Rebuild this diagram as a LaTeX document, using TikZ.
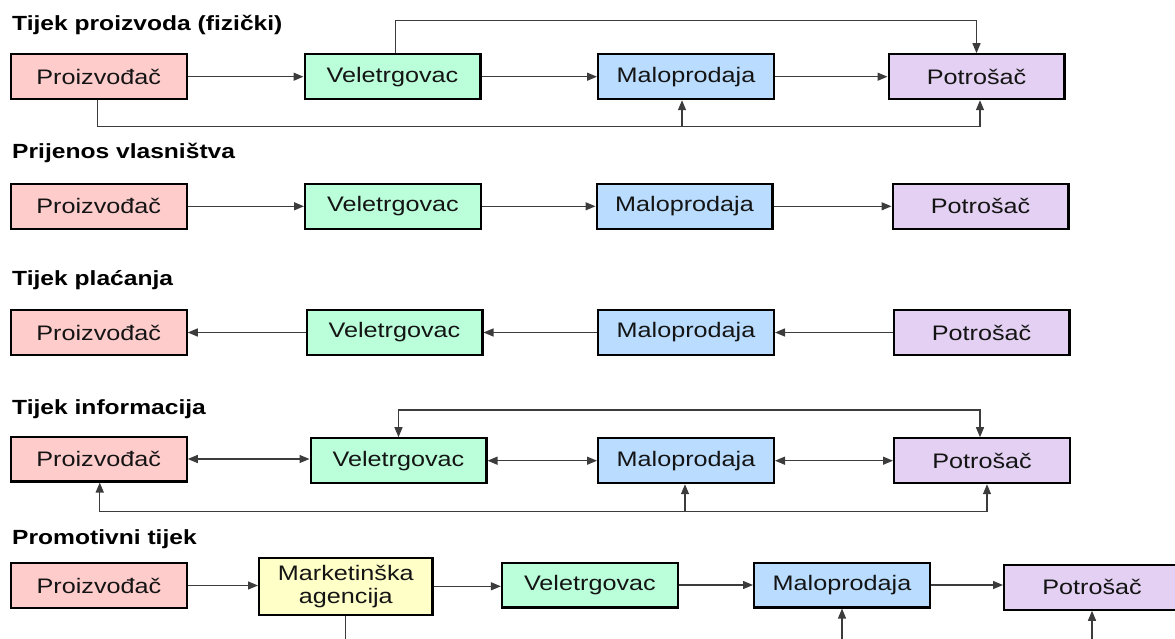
\documentclass[tikz,border=0pt]{standalone}
\usepackage{fontspec}
\setmainfont{Liberation Sans}[FakeStretch=1.2]
\usetikzlibrary{arrows.meta,calc}
\definecolor{cprod}{RGB}{255,204,204}
\definecolor{cwhole}{RGB}{187,255,218}
\definecolor{cretail}{RGB}{185,220,255}
\definecolor{ccons}{RGB}{227,208,242}
\definecolor{cagency}{RGB}{255,255,200}
\definecolor{cline}{RGB}{60,60,60}
\begin{document}
\begin{tikzpicture}[x=1pt,y=-1pt,
  box/.style={draw=black, line width=2.2pt, minimum width=175.8pt, minimum height=44.8pt,
    inner sep=0pt, font=\fontsize{21}{23}\selectfont, text=black!92},
  ttl/.style={anchor=base west, font=\bfseries\fontsize{20.5}{24}\selectfont, inner sep=0pt},
  conn/.style={draw=cline, line width=1.3pt, -{Triangle[length=10pt,width=8pt]}},
  bothc/.style={draw=cline, line width=1.3pt, {Triangle[length=10pt,width=8pt]}-{Triangle[length=10pt,width=8pt]}},
  plain/.style={draw=cline, line width=1.3pt}]
\useasboundingbox (0,0) rectangle (1175,639);
\clip (0,0) rectangle (1175,639);

% ---------- Row 1 ----------
\node[ttl] (t1) at (12,31) {Tijek proizvoda (fizički)};
\node[box, fill=cprod]   (p1) at (98.75,76.7) {Proizvođač};
\node[box, fill=cwhole]  (v1) at (392.5,76.7) {Veletrgovac};
\node[box, fill=cretail] (m1) at (686,76.7) {Maloprodaja};
\node[box, fill=ccons]   (c1) at (976.5,76.7) {Potrošač};
\coordinate (up1) at (0,20.7);
\coordinate (lo1) at (0,126.7);
\coordinate (v1n) at ([xshift=3pt]v1.north);
\coordinate (p1s) at ([xshift=-1pt]p1.south);
\coordinate (c1s) at ([xshift=3.5pt]c1.south);
\coordinate (m1s) at ([xshift=-4pt]m1.south);
\draw[conn] (p1.east) -- (v1.west);
\draw[conn] (v1.east) -- (m1.west);
\draw[conn] (m1.east) -- (c1.west);
\draw[conn] (v1n) |- (up1 -| c1.north) -- (c1.north);
\draw[conn] (p1s) |- (lo1 -| c1s) -- (c1s);
\draw[conn] (lo1 -| m1s) -- (m1s);

% ---------- Row 2 ----------
\node[ttl] (t2) at (12,159) {Prijenos vlasništva};
\node[box, fill=cprod]   (p2) at (98.75,206.3) {Proizvođač};
\node[box, fill=cwhole]  (v2) at (393,206.3) {Veletrgovac};
\node[box, fill=cretail] (m2) at (684.5,206.3) {Maloprodaja};
\node[box, fill=ccons]   (c2) at (980.5,206.3) {Potrošač};
\draw[conn] (p2.east) -- (v2.west);
\draw[conn] (v2.east) -- (m2.west);
\draw[conn] (m2.east) -- (c2.west);

% ---------- Row 3 ----------
\node[ttl] (t3) at (12,285.7) {Tijek plaćanja};
\node[box, fill=cprod]   (p3) at (98.75,332.5) {Proizvođač};
\node[box, fill=cwhole]  (v3) at (394.5,332.5) {Veletrgovac};
\node[box, fill=cretail] (m3) at (686,332.5) {Maloprodaja};
\node[box, fill=ccons]   (c3) at (981.5,332.5) {Potrošač};
\draw[conn] (v3.west) -- (p3.east);
\draw[conn] (m3.west) -- (v3.east);
\draw[conn] (c3.west) -- (m3.east);

% ---------- Row 4 ----------
\node[ttl] (t4) at (12,414.5) {Tijek informacija};
\node[box, fill=cprod]   (p4) at (98.75,459) {Proizvođač};
\node[box, fill=cwhole]  (v4) at (398.5,460.7) {Veletrgovac};
\node[box, fill=cretail] (m4) at (686,460.7) {Maloprodaja};
\node[box, fill=ccons]   (c4) at (982,460.7) {Potrošač};
\coordinate (up4) at (0,410);
\coordinate (lo4) at (0,511.5);
\coordinate (c4n) at ([xshift=-2pt]c4.north);
\coordinate (c4s) at ([xshift=5pt]c4.south);
\coordinate (p4s) at ([xshift=1pt]p4.south);
\coordinate (m4s) at ([xshift=-1pt]m4.south);
\draw[bothc] (p4.east) -- (p4.east -| v4.west);
\draw[bothc] (v4.east) -- (m4.west);
\draw[bothc] (m4.east) -- (c4.west);
\draw[bothc] (v4.north) |- (up4 -| c4n) -- (c4n);
\draw[conn] (lo4 -| c4s) -| (p4s);
\draw[conn] (lo4 -| c4s) -- (c4s);
\draw[conn] (lo4 -| m4s) -- (m4s);

% ---------- Row 5 ----------
\node[ttl] (t5) at (12,544) {Promotivni tijek};
\node[box, fill=cprod]   (p5) at (99,585.5) {Proizvođač};
\node[box, fill=cagency, minimum width=173.4pt, minimum height=57pt, align=center] (a5) at (345.8,586.3) {Marketinška\\agencija};
\node[box, fill=cwhole]  (v5) at (589.9,585) {Veletrgovac};
\node[box, fill=cretail] (m5) at (842,585) {Maloprodaja};
\node[box, fill=ccons]   (c5) at (1092,587.3) {Potrošač};
\coordinate (lo5) at (0,670);
\draw[conn] (p5.east) -- (p5.east -| a5.west);
\draw[conn] (a5.east) -- (a5.east -| v5.west);
\draw[conn] (v5.east) -- (m5.west);
\draw[conn] (m5.east) -- (m5.east -| c5.west);
\draw[plain] (a5.south) -- (a5.south |- lo5);
\draw[conn] (lo5 -| m5.south) -- (m5.south);
\draw[conn] (lo5 -| c5.south) -- (c5.south);
\end{tikzpicture}
\end{document}
